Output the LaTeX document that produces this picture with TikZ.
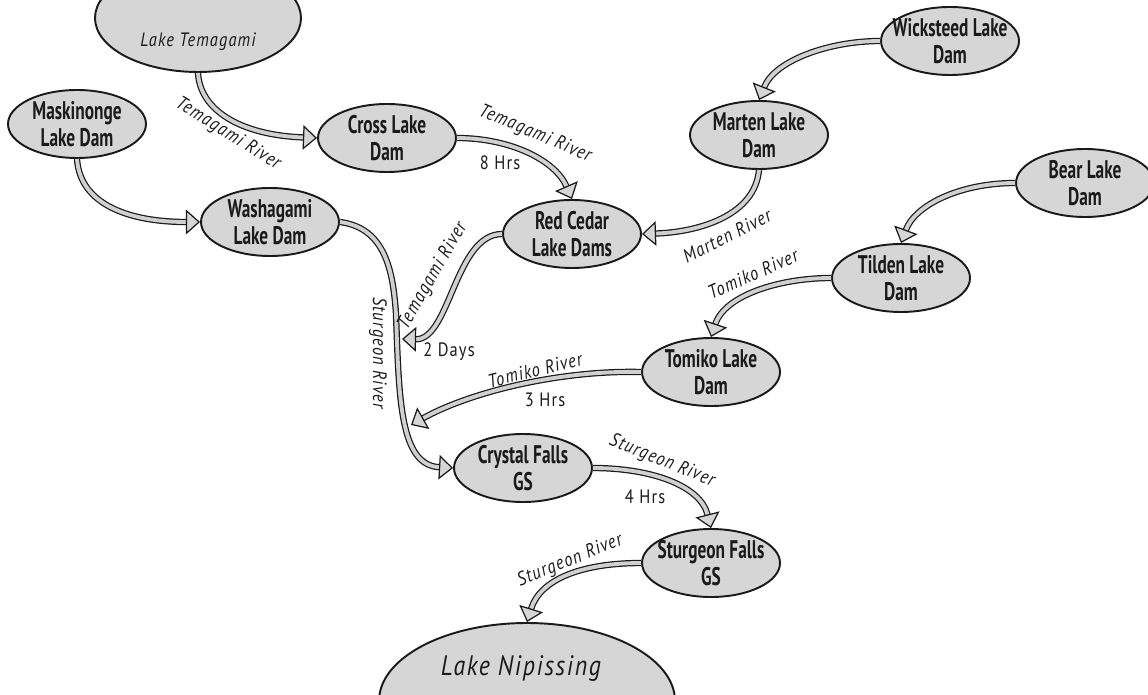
\documentclass[tikz,border=0pt]{standalone}
\usepackage{fontspec}
\setmainfont{PT Sans}
\newfontfamily\damfont[FakeStretch=0.68]{PT Sans}
\newfontfamily\rivfont[FakeStretch=0.85,LetterSpace=6]{PT Sans}
\definecolor{rvInk}{HTML}{1A1A1A}
\definecolor{rvFill}{HTML}{D6D6D6}
\definecolor{rvWater}{HTML}{D0D0D0}
\usetikzlibrary{arrows.meta,shapes.geometric}

\tikzset{
  dam/.style={ellipse, draw=rvInk, line width=1.1pt, fill=rvFill,
    minimum width=2.76cm, minimum height=1.36cm, inner xsep=-0.2cm, inner ysep=-1pt,
    align=center, text=rvInk, font=\damfont\bfseries\fontsize{14.5}{15.5}\selectfont},
  lake/.style={ellipse, draw=rvInk, line width=1.1pt, fill=rvFill, inner sep=0pt},
  laketext/.style={text=rvInk, font=\rivfont\itshape},
  river/.style={draw=rvInk, line width=0.7pt, double=rvWater, double distance=2.2pt,
    -{Triangle[length=8pt, width=14pt, fill=rvFill, line width=0.7pt]}},
  rivlabel/.style={text=rvInk, inner sep=1pt, font=\rivfont\itshape\fontsize{11}{13}\selectfont},
  hrslabel/.style={text=rvInk, inner sep=1pt, font=\rivfont\fontsize{11}{13}\selectfont}
}

\begin{document}
\begin{tikzpicture}
  \useasboundingbox (0,0) rectangle (22.96,13.88);
  \clip (0,0) rectangle (22.96,13.88);

  % lakes
  \node[lake, minimum width=4.12cm, minimum height=2.16cm] (temagami) at (3.96,13.52) {};
  \node[laketext, font=\rivfont\itshape\fontsize{11}{13}\selectfont] (temagamiText) at (3.96,13.04) {Lake Temagami};
  \node[lake, minimum width=5.92cm, minimum height=3.12cm] (nipissing) at (10.54,-0.14) {};
  \node[laketext, font=\rivfont\itshape\fontsize{16}{18}\selectfont] (nipissingText) at (10.42,0.52) {Lake Nipissing};

  % dams and stations
  \node[dam] (maskinonge) at (1.54,11.40) {Maskinonge\\Lake Dam};
  \node[dam] (cross) at (7.74,11.12) {Cross Lake\\Dam};
  \node[dam] (washagami) at (5.40,9.44) {Washagami\\Lake Dam};
  \node[dam] (redcedar) at (11.44,9.20) {Red Cedar\\Lake Dams};
  \node[dam] (marten) at (15.18,11.18) {Marten Lake\\Dam};
  \node[dam] (wicksteed) at (19.00,13.06) {Wicksteed Lake\\Dam};
  \node[dam] (bear) at (21.70,10.22) {Bear Lake\\Dam};
  \node[dam] (tilden) at (18.02,8.32) {Tilden Lake\\Dam};
  \node[dam] (tomiko) at (14.22,6.44) {Tomiko Lake\\Dam};
  \node[dam] (crystal) at (10.46,4.52) {Crystal Falls\\GS};
  \node[dam] (sturgeonfalls) at (14.22,2.62) {Sturgeon Falls\\GS};

  % where the tributaries meet the Sturgeon River
  \coordinate (joinA) at (8.04,7.10);
  \coordinate (joinB) at (8.22,5.38);

  % rivers
  \draw[river] (washagami.east) .. controls (7.70,9.32) and (7.86,8.48) .. (7.92,7.60)
    .. controls (7.98,5.88) and (8.00,4.58) .. (crystal.west);
  \draw[river] (temagami.south) .. controls (4.00,11.68) and (4.80,11.18) .. (cross.west);
  \draw[river] (maskinonge.south) .. controls (1.60,9.78) and (2.60,9.44) .. (washagami.west);
  \draw[river] (cross.east) .. controls (10.20,11.12) and (11.10,10.68) .. (redcedar.north);
  \draw[river] (wicksteed.west) .. controls (16.60,13.06) and (15.50,12.68) .. (marten.north);
  \draw[river] (marten.south) .. controls (15.10,9.58) and (14.00,9.24) .. (redcedar.east);
  \draw[river] (bear.west) .. controls (19.20,10.22) and (18.30,9.78) .. (tilden.north);
  \draw[river] (redcedar.west) .. controls (9.10,9.20) and (9.00,7.08) .. (joinA);
  \draw[river] (tilden.west) .. controls (15.60,8.32) and (14.50,7.98) .. (tomiko.north);
  \draw[river] (tomiko.west) .. controls (11.20,6.48) and (9.40,6.04) .. (joinB);
  \draw[river] (crystal.east) .. controls (13.00,4.52) and (14.00,4.18) .. (sturgeonfalls.north);
  \draw[river] (sturgeonfalls.west) .. controls (11.60,2.62) and (10.80,2.28) .. (nipissing.north);

  % river names and travel times
  \node[rivlabel, rotate=-32] (lblTemA) at (4.56,11.20) {Temagami River};
  \node[rivlabel, rotate=-23] (lblTemB) at (10.70,11.20) {Temagami River};
  \node[hrslabel] (hrsTemB) at (10.00,10.62) {8 Hrs};
  \node[rivlabel, rotate=27] (lblMarten) at (14.54,9.16) {Marten River};
  \node[rivlabel, rotate=60] (lblTemC) at (8.66,8.36) {Temagami River};
  \node[hrslabel] (hrsTemC) at (8.98,6.84) {2 Days};
  \node[rivlabel, rotate=-90] (lblSturgA) at (7.56,6.82) {Sturgeon River};
  \node[rivlabel, rotate=24] (lblTomA) at (15.06,8.40) {Tomiko River};
  \node[rivlabel, rotate=14] (lblTomB) at (10.70,6.48) {Tomiko River};
  \node[hrslabel] (hrsTomB) at (10.90,5.88) {3 Hrs};
  \node[rivlabel, rotate=-22] (lblSturgB) at (13.24,4.66) {Sturgeon River};
  \node[hrslabel] (hrsSturgB) at (12.90,3.94) {4 Hrs};
  \node[rivlabel, rotate=22] (lblSturgC) at (11.40,2.66) {Sturgeon River};
\end{tikzpicture}
\end{document}
